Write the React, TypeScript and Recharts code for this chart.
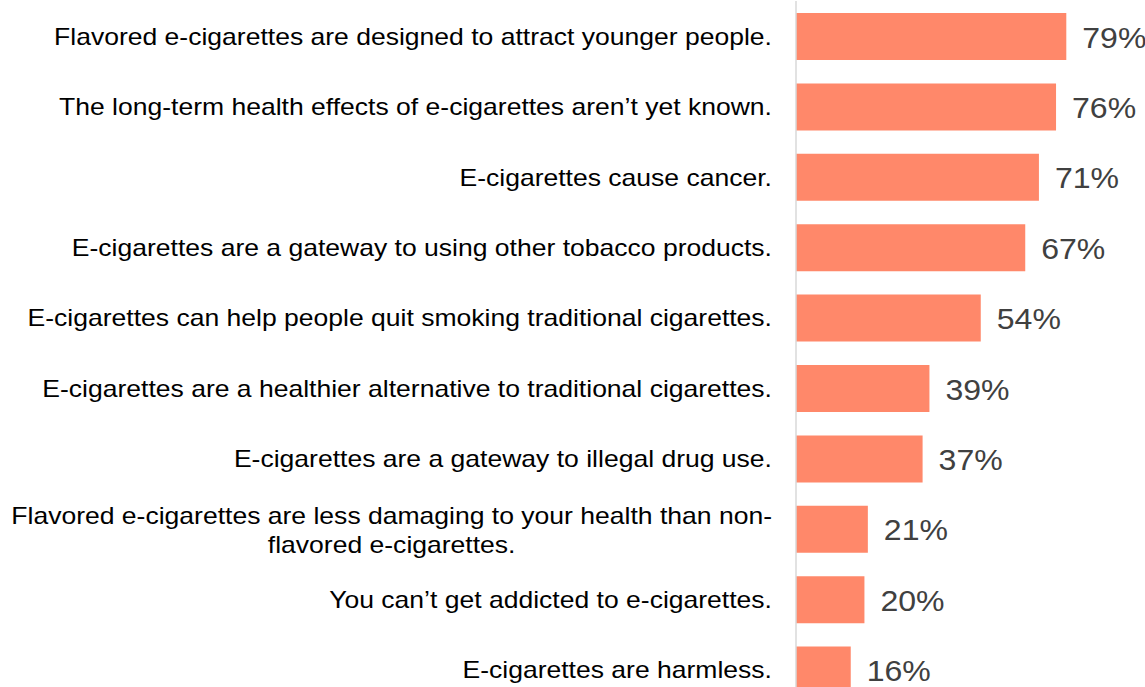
import React from 'react';
import { BarChart, Bar, XAxis, YAxis, LabelList } from 'recharts';

const categories = [
  'Flavored e-cigarettes are designed to attract younger people.',
  'The long-term health effects of e-cigarettes aren\u2019t yet known.',
  'E-cigarettes cause cancer.',
  'E-cigarettes are a gateway to using other tobacco products.',
  'E-cigarettes can help people quit smoking traditional cigarettes.',
  'E-cigarettes are a healthier alternative to traditional cigarettes.',
  'E-cigarettes are a gateway to illegal drug use.',
  'Flavored e-cigarettes are less damaging to your health than non-flavored e-cigarettes.',
  'You can\u2019t get addicted to e-cigarettes.',
  'E-cigarettes are harmless.',
];
const values = [79, 76, 71, 67, 54, 39, 37, 21, 20, 16];

const data = categories.map((c, i) => ({ name: c, value: values[i] }));

const FONT = '"Liberation Sans", Arial, sans-serif';
const TICK_SIZE = 24;
const VALUE_SIZE = 29;
const STRETCH = 1.105;

let ctx: CanvasRenderingContext2D | null = null;
function measure(t: string, size: number) {
  if (!ctx) {
    const c = document.createElement('canvas');
    ctx = c.getContext('2d');
  }
  if (!ctx) return t.length * size * 0.5;
  ctx.font = `${size}px "Liberation Sans"`;
  return ctx.measureText(t).width;
}

const StretchText = ({ x, y, text, size, fill, anchor }: any) => {
  const w = measure(text, size) * STRETCH;
  return (
    <text
      x={x}
      y={y}
      textAnchor={anchor}
      dominantBaseline="central"
      fontSize={size}
      fill={fill}
      fontFamily={FONT}
      textLength={w}
      lengthAdjust="spacingAndGlyphs"
    >
      {text}
    </text>
  );
};

const CategoryTick = (props: any) => {
  const { x, y, payload } = props;
  const text: string = payload.value;
  const idx = text.indexOf('non-');
  if (idx > 0) {
    const l1 = text.slice(0, idx + 4);
    const l2 = text.slice(idx + 4);
    const w1 = measure(l1, TICK_SIZE) * STRETCH;
    const w2 = measure(l2, TICK_SIZE) * STRETCH;
    return (
      <g>
        <StretchText x={x} y={y - 14} text={l1} size={TICK_SIZE} fill="#000" anchor="end" />
        <StretchText x={x - (w1 - w2) / 2} y={y + 15} text={l2} size={TICK_SIZE} fill="#000" anchor="end" />
      </g>
    );
  }
  return <StretchText x={x} y={y} text={text} size={TICK_SIZE} fill="#000" anchor="end" />;
};

const ValueLabel = (props: any) => {
  const { x, y, width, height, value } = props;
  return (
    <StretchText
      x={x + width + 16}
      y={y + height / 2 + 1}
      text={`${value}%`}
      size={VALUE_SIZE}
      fill="#404040"
      anchor="start"
    />
  );
};

export default function App() {
  return (
    <div style={{ position: 'absolute', left: 0, top: 0, background: '#fff' }}>
      <BarChart
        width={1145}
        height={705}
        data={data}
        layout="vertical"
        margin={{ top: 1, right: 0, bottom: 0, left: 0 }}
        barSize={47}
      >
        <XAxis type="number" domain={[0, 102]} hide />
        <YAxis
          type="category"
          dataKey="name"
          width={796}
          tickLine={false}
          tickSize={0}
          tickMargin={24}
          axisLine={{ stroke: '#d9d9d9', strokeWidth: 1.5 }}
          tick={<CategoryTick />}
          interval={0}
        />
        <Bar dataKey="value" fill="#FF886A" isAnimationActive={false}>
          <LabelList dataKey="value" content={<ValueLabel />} />
        </Bar>
      </BarChart>
    </div>
  );
}
